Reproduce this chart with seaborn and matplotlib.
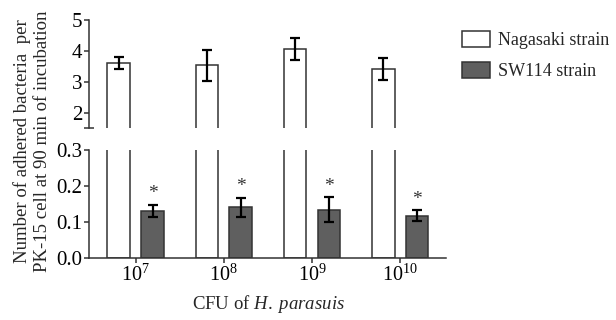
import matplotlib
matplotlib.use("Agg")
import matplotlib.pyplot as plt
import numpy as np
import pandas as pd
import seaborn as sns

cfu = ["$10^{7}$", "$10^{8}$", "$10^{9}$", "$10^{10}$"]
strains = ["Nagasaki strain", "SW114 strain"]
nagasaki_mean = [3.60, 3.53, 4.06, 3.40]
nagasaki_err = [0.20, 0.50, 0.36, 0.36]
sw114_mean = [0.131, 0.141, 0.134, 0.117]
sw114_err = [0.017, 0.027, 0.035, 0.015]

df = pd.DataFrame({
    "cfu": cfu * 2,
    "strain": [strains[0]] * 4 + [strains[1]] * 4,
    "value": nagasaki_mean + sw114_mean,
})

sns.set_style("ticks")
plt.rcParams["font.family"] = ["Liberation Serif", "DejaVu Serif"]
plt.rcParams["mathtext.fontset"] = "custom"
plt.rcParams["mathtext.rm"] = "Liberation Serif"
plt.rcParams["mathtext.it"] = "Liberation Serif:italic"

edge = "#333333"
fig = plt.figure(figsize=(6.16, 3.2), dpi=100)
ax_top = fig.add_axes([0.1445, 0.600, 0.5795, 0.3375])
ax_bot = fig.add_axes([0.1445, 0.194, 0.5795, 0.337], sharex=ax_top)

for ax in (ax_top, ax_bot):
    sns.barplot(data=df, x="cfu", y="value", hue="strain", order=cfu,
                hue_order=strains, palette=["white", "#5f5f5f"],
                edgecolor=edge, linewidth=1.1, width=0.77, gap=0.33,
                errorbar=None, ax=ax)
    ax.get_legend().remove()
    for s in ("top", "right"):
        ax.spines[s].set_visible(False)
    for s in ("left", "bottom"):
        ax.spines[s].set_color(edge)
        ax.spines[s].set_linewidth(1.1)
    ax.tick_params(axis="both", colors=edge, labelcolor="black",
                   labelsize=15, length=3.5, width=1.1)
    ax.tick_params(axis="y", pad=1.5)
    ax.set_xlabel("")
    ax.set_ylabel("")

# error bars
xs_n = [b.get_x() + b.get_width() / 2 for b in ax_top.containers[0]]
xs_s = [b.get_x() + b.get_width() / 2 for b in ax_bot.containers[1]]
ax_top.errorbar(xs_n, nagasaki_mean, yerr=nagasaki_err, fmt="none",
                ecolor="black", elinewidth=1.6, capsize=3.3, capthick=1.6)
ax_bot.errorbar(xs_s, sw114_mean, yerr=sw114_err, fmt="none",
                ecolor="black", elinewidth=1.6, capsize=3.3, capthick=1.6)
for x, m, e in zip(xs_s, sw114_mean, sw114_err):
    ax_bot.text(x, m + e + 0.007, "*", ha="center", va="bottom",
                fontsize=14, color="#333333")

# top panel
ax_top.set_ylim(1.5, 5)
ax_top.set_yticks([2, 3, 4, 5])
ax_top.set_yticks([1.5], minor=True)
ax_top.tick_params(axis="y", which="minor", length=7, width=1.1,
                   direction="inout", colors=edge)
ax_top.spines["bottom"].set_visible(False)
ax_top.tick_params(axis="x", bottom=False, labelbottom=False)

# bottom panel
ax_bot.set_ylim(0, 0.3)
ax_bot.set_yticks([0.0, 0.1, 0.2, 0.3])
ax_bot.set_yticklabels(["0.0", "0.1", "0.2", "0.3"])
ax_bot.set_yticks([0.3], minor=True)
ax_bot.tick_params(axis="y", which="minor", length=7, width=1.1,
                   direction="inout", colors=edge)
ax_bot.set_xlim(-0.53, 3.52)
ax_bot.tick_params(axis="x", labelsize=14.5, pad=1.5)

fig.text(0.052, 0.56, "Number of adhered bacteria  per\nPK-15 cell at 90 min of incubation",
         rotation=90, ha="center", va="center", fontsize=13.5, linespacing=1.3)
fig.text(0.436, 0.05, "CFU of $\\mathit{H.\\ parasuis}$", ha="center",
         va="center", fontsize=13.5)

handles = list(ax_bot.containers[0][:1]) + list(ax_bot.containers[1][:1])
fig.legend(handles, strains, loc="upper left",
           bbox_to_anchor=(0.739, 0.925), frameon=False, fontsize=13,
           handlelength=1.55, handleheight=1.0, handletextpad=0.4,
           labelspacing=0.7, borderaxespad=0)

fig.savefig("out.png", dpi=100)
